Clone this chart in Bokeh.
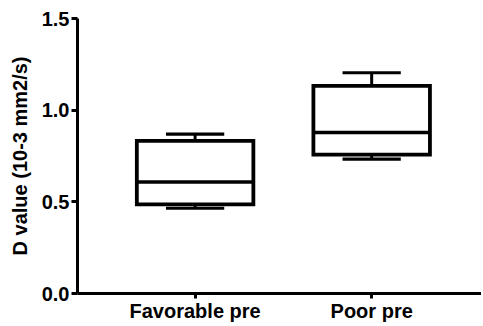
from bokeh.plotting import figure
from bokeh.models import Range1d, FixedTicker
from bokeh.embed import file_html
from bokeh.resources import INLINE

categories = ["Favorable pre", "Poor pre"]
positions = [1, 2]
q1 = [0.486, 0.757]
median = [0.608, 0.878]
q3 = [0.832, 1.132]
wmin = [0.465, 0.733]
wmax = [0.869, 1.204]
yticks = [0.0, 0.5, 1.0, 1.5]
ytick_labels = ["0.0", "0.5", "1.0", "1.5"]

box_w = 0.66
cap_w = 0.33

FONT = "Liberation Sans"

p = figure(width=481, height=324, output_backend="svg", toolbar_location=None,
           x_range=Range1d(0.334, 2.622), y_range=Range1d(0, 1.5),
           min_border_left=77, min_border_right=0, min_border_top=18, min_border_bottom=20)
p.outline_line_color = None
p.xgrid.visible = False
p.ygrid.visible = False
p.background_fill_color = "white"
p.border_fill_color = "white"

left = [x - box_w / 2 for x in positions]
right = [x + box_w / 2 for x in positions]
cl = [x - cap_w / 2 for x in positions]
cr = [x + cap_w / 2 for x in positions]

# whiskers
p.segment(positions, q3, positions, wmax, line_color="black", line_width=3)
p.segment(positions, q1, positions, wmin, line_color="black", line_width=3)
p.segment(cl, wmax, cr, wmax, line_color="black", line_width=3.2)
p.segment(cl, wmin, cr, wmin, line_color="black", line_width=3.2)
# boxes
p.quad(left=left, right=right, bottom=q1, top=q3, fill_color="white",
       line_color="black", line_width=3.8, line_join="miter")
# medians
p.segment(left, median, right, median, line_color="black", line_width=3.5)

# axes
for ax in (p.xaxis[0], p.yaxis[0]):
    ax.axis_line_width = 3
    ax.axis_line_color = "black"
    ax.major_tick_line_width = 3
    ax.major_tick_line_color = "black"
    ax.major_tick_in = 0
    ax.major_tick_out = 6
    ax.minor_tick_line_color = None
    ax.major_label_text_font = FONT
    ax.major_label_text_font_style = "bold"
    ax.major_label_text_font_size = "20px"
    ax.major_label_text_color = "black"

p.xaxis.ticker = FixedTicker(ticks=positions)
p.xaxis.major_label_overrides = {pos: c for pos, c in zip(positions, categories)}
p.xaxis.major_label_standoff = 1
p.xaxis.major_tick_out = 5

p.yaxis.ticker = FixedTicker(ticks=yticks)
p.yaxis.major_label_overrides = {t: l for t, l in zip(yticks, ytick_labels)}
p.yaxis.major_label_standoff = 2
p.yaxis.axis_label = "D value (10-3 mm2/s)"
p.yaxis.axis_label_text_font = FONT
p.yaxis.axis_label_text_font_style = "bold"
p.yaxis.axis_label_text_font_size = "20px"
p.yaxis.axis_label_text_color = "black"
p.yaxis.axis_label_standoff = 8

open("out.html", "w").write(file_html(p, INLINE))
